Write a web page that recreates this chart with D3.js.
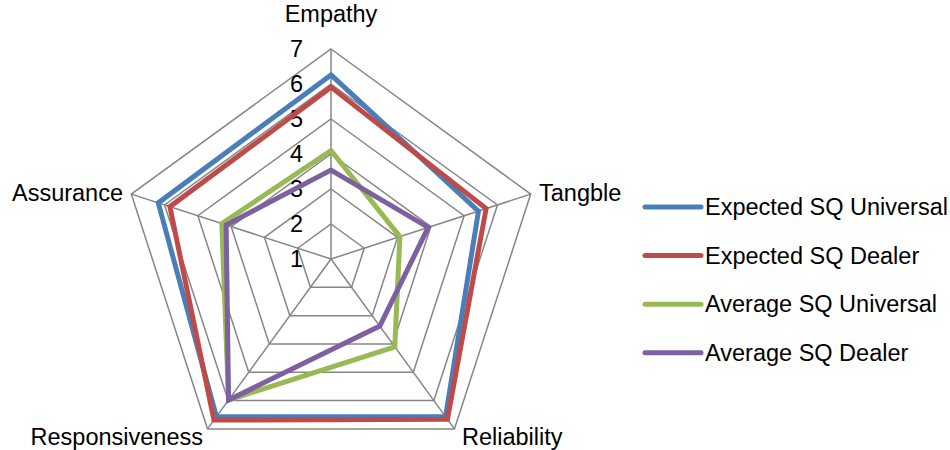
<!DOCTYPE html>
<html>
<head>
<meta charset="utf-8">
<script src="https://cdn.jsdelivr.net/npm/d3@7"></script>
<style>
  body { margin: 0; background: #fff; }
  text { font-family: "Liberation Sans", Arial, sans-serif; fill: #000; }
</style>
</head>
<body>
<script>
// axes of the radar, clockwise from the top
var categories = ["Empathy", "Tangble", "Reliability", "Responsiveness", "Assurance"];
var tickValues = [1, 2, 3, 4, 5, 6, 7];

var seriesNames = ["Expected SQ Universal", "Expected SQ Dealer", "Average SQ Universal", "Average SQ Dealer"];
var expectedUniversal = [6.26, 5.43, 6.57, 6.57, 6.19];
var expectedDealer    = [5.91, 5.66, 6.66, 6.69, 5.84];
var averageUniversal  = [4.10, 3.07, 4.10, 5.98, 4.28];
var averageDealer     = [3.54, 3.92, 3.37, 5.98, 4.15];
var colors = ["#4A7EBB", "#BE4B48", "#98B954", "#7D60A0"];

var series = [expectedUniversal, expectedDealer, averageUniversal, averageDealer];

var width = 950, height = 450;
var cx = 331, cy = 259, R = 210;
var fontSize = "23.5px";

var svg = d3.select("body").append("svg")
    .attr("width", width)
    .attr("height", height);

var r = d3.scaleLinear().domain([1, 7]).range([0, R]);
var angle = function(i) { return i * 2 * Math.PI / categories.length; };

var g = svg.append("g")
    .attr("transform", "translate(" + cx + "," + cy + ")");

// grid rings
var ring = d3.lineRadial()
    .angle(function(d, i) { return angle(i); })
    .radius(function(d) { return r(d); })
    .curve(d3.curveLinearClosed);

g.selectAll(".ring")
    .data(tickValues.slice(1))
    .enter().append("path")
    .attr("class", "ring")
    .attr("d", function(v) { return ring(categories.map(function() { return v; })); })
    .attr("fill", "none")
    .attr("stroke", "#868686")
    .attr("stroke-width", 1.5);

// spokes
g.selectAll(".spoke")
    .data(categories)
    .enter().append("line")
    .attr("class", "spoke")
    .attr("x1", 0).attr("y1", 0)
    .attr("x2", function(d, i) { return r(7) * Math.sin(angle(i)); })
    .attr("y2", function(d, i) { return -r(7) * Math.cos(angle(i)); })
    .attr("stroke", "#868686")
    .attr("stroke-width", 1.5);

// value axis labels
var y = d3.scaleLinear().domain([1, 7]).range([0, -R]);
var yAxis = g.append("g")
    .call(d3.axisLeft(y).tickValues(tickValues).tickSize(0).tickPadding(28).tickFormat(d3.format("d")));
yAxis.select(".domain").remove();
yAxis.selectAll("text")
    .style("font-family", "Liberation Sans, Arial, sans-serif")
    .style("font-size", fontSize)
    .attr("fill", "#000");

// series
var line = d3.lineRadial()
    .angle(function(d, i) { return angle(i); })
    .radius(function(d) { return r(d); })
    .curve(d3.curveLinearClosed);

g.selectAll(".series")
    .data(series)
    .enter().append("path")
    .attr("class", "series")
    .attr("d", line)
    .attr("fill", "none")
    .attr("stroke", function(d, i) { return colors[i]; })
    .attr("stroke-width", 5)
    .attr("stroke-linejoin", "miter");

// category labels
var labelPos = [
  { x: 0, y: -237, anchor: "middle" },
  { x: 208, y: -58, anchor: "start" },
  { x: 131, y: 186, anchor: "start" },
  { x: -128, y: 186, anchor: "end" },
  { x: -208, y: -58, anchor: "end" }
];
g.selectAll(".cat")
    .data(categories)
    .enter().append("text")
    .attr("class", "cat")
    .attr("x", function(d, i) { return labelPos[i].x; })
    .attr("y", function(d, i) { return labelPos[i].y; })
    .attr("text-anchor", function(d, i) { return labelPos[i].anchor; })
    .style("font-size", fontSize)
    .text(function(d) { return d; });

// legend
var legend = svg.selectAll(".legend")
    .data(seriesNames)
    .enter().append("g")
    .attr("class", "legend")
    .attr("transform", function(d, i) { return "translate(645," + (207 + i * 48.6) + ")"; });

legend.append("line")
    .attr("x1", 0).attr("x2", 56)
    .attr("stroke", function(d, i) { return colors[i]; })
    .attr("stroke-width", 5)
    .attr("stroke-linecap", "round");

legend.append("text")
    .attr("x", 60)
    .attr("dy", "0.35em")
    .style("font-size", fontSize)
    .text(function(d) { return d; });
</script>
</body>
</html>
